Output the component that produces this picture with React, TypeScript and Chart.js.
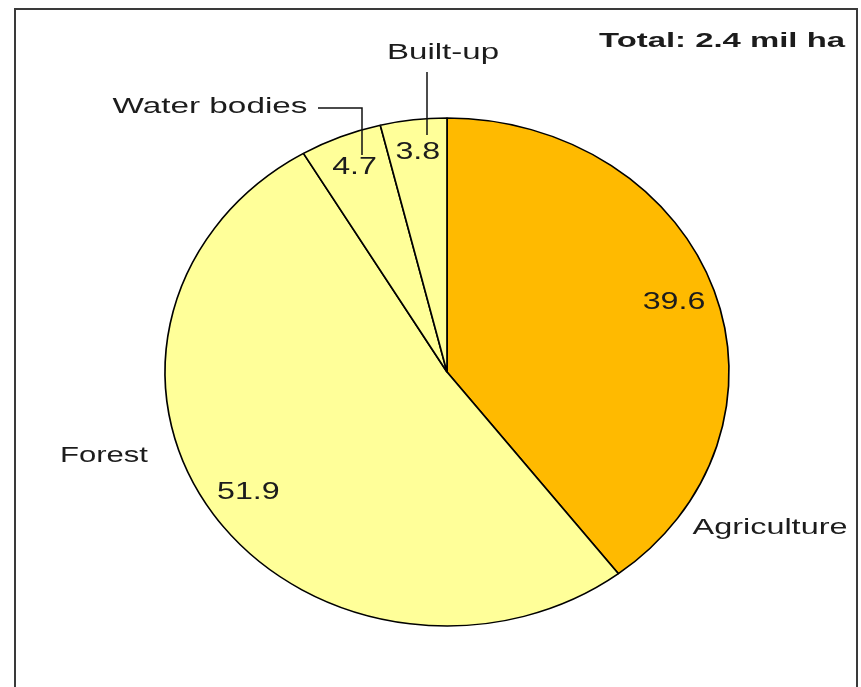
import React, { useEffect, useRef } from "react";
import { Chart, registerables } from "chart.js";

Chart.register(...registerables);

// ---- data ----
const categories = ["Agriculture", "Forest", "Water bodies", "Built-up"];
const shares = [39.6, 51.9, 4.7, 3.8];
const valueLabels = ["39.6", "51.9", "4.7", "3.8"];
const totalLabel = "Total: 2.4 mil ha";

// ---- styles / layout ----
const sliceColors = ["#FFBA00", "#FFFF99", "#FFFF99", "#FFFF99"];
const W = 861;
const H = 687;
const CX = 447;
const CY = 372;
const RY = 254;
const ELLIPSE_SX = 282 / 254;
const TEXT_COLOR = "#1c1c1c";
const FONT_FAMILY = "'Liberation Sans', Arial, sans-serif";

// category label placement (page px): x, baseline y, target text width
const labelLayout = [
  { x: 770, y: 534, w: 155 },
  { x: 104, y: 462, w: 88 },
  { x: 210, y: 113, w: 195 },
  { x: 443, y: 59, w: 112 },
];
const leaderLines: (number[][] | null)[] = [
  null,
  null,
  [[318, 108], [362, 108], [362, 155]],
  [[427, 72], [427, 135]],
];
const valueRadius = [0.85, 0.85, 0.87, 0.87];
const valueStretch = 1.4;
const totalLayout = { x: 845, y: 47, w: 246 };

function drawStretched(
  ctx: CanvasRenderingContext2D,
  text: string,
  x: number,
  y: number,
  font: string,
  sx: number | null,
  targetW: number | null,
  align: CanvasTextAlign,
  baseline: CanvasTextBaseline
) {
  ctx.save();
  ctx.font = font;
  ctx.fillStyle = TEXT_COLOR;
  ctx.textAlign = align;
  ctx.textBaseline = baseline;
  const natural = ctx.measureText(text).width;
  const k = targetW ? targetW / natural : sx || 1;
  ctx.translate(x, y);
  ctx.scale(k, 1);
  ctx.fillText(text, 0, 0);
  ctx.restore();
}

const ellipsePlugin = {
  id: "ellipsePie",
  beforeDatasetsDraw(chart: any) {
    const ctx = chart.ctx as CanvasRenderingContext2D;
    const a = chart.chartArea;
    const cx = (a.left + a.right) / 2;
    const cy = (a.top + a.bottom) / 2;
    ctx.save();
    ctx.translate(cx, cy);
    ctx.scale(ELLIPSE_SX, 1);
    ctx.translate(-cx, -cy);
  },
  afterDatasetsDraw(chart: any) {
    const ctx = chart.ctx as CanvasRenderingContext2D;
    ctx.restore();

    const meta = chart.getDatasetMeta(0);
    // value labels inside slices
    meta.data.forEach((arc: any, i: number) => {
      const p = arc.getProps(["x", "y", "startAngle", "endAngle", "outerRadius"], true);
      const mid = (p.startAngle + p.endAngle) / 2;
      const r = p.outerRadius * valueRadius[i];
      const x = p.x + Math.cos(mid) * r * ELLIPSE_SX;
      const y = p.y + Math.sin(mid) * r;
      drawStretched(ctx, valueLabels[i], x, y, `23px ${FONT_FAMILY}`, valueStretch, null, "center", "middle");
    });

    // leader lines
    ctx.save();
    ctx.strokeStyle = "#111";
    ctx.lineWidth = 1.5;
    leaderLines.forEach((pts) => {
      if (!pts) return;
      ctx.beginPath();
      pts.forEach((pt, j) => (j === 0 ? ctx.moveTo(pt[0], pt[1]) : ctx.lineTo(pt[0], pt[1])));
      ctx.stroke();
    });
    ctx.restore();

    // category labels
    categories.forEach((c, i) => {
      const L = labelLayout[i];
      drawStretched(ctx, c, L.x, L.y, `22px ${FONT_FAMILY}`, null, L.w, "center", "alphabetic");
    });

    // total
    drawStretched(ctx, totalLabel, totalLayout.x, totalLayout.y, `bold 21px ${FONT_FAMILY}`, null, totalLayout.w, "right", "alphabetic");
  },
};

export default function App() {
  const canvasRef = useRef<HTMLCanvasElement | null>(null);

  useEffect(() => {
    if (!canvasRef.current) return;
    const half = RY + 0.75;
    const chart = new Chart(canvasRef.current, {
      type: "pie",
      data: {
        labels: categories,
        datasets: [
          {
            data: shares,
            backgroundColor: sliceColors,
            borderColor: "#000000",
            borderWidth: 1.5,
          },
        ],
      },
      options: {
        responsive: true,
        maintainAspectRatio: false,
        animation: false,
        events: [],
        layout: {
          padding: {
            left: CX - half,
            right: W - (CX + half),
            top: CY - half,
            bottom: H - (CY + half),
          },
        },
        plugins: {
          legend: { display: false },
          title: { display: false },
          tooltip: { enabled: false },
        },
      },
      plugins: [ellipsePlugin],
    });
    return () => chart.destroy();
  }, []);

  return (
    <div
      style={{
        position: "fixed",
        left: 0,
        top: 0,
        width: W,
        height: H,
        background: "#ffffff",
        overflow: "hidden",
      }}
    >
      <div
        style={{
          position: "absolute",
          left: 14,
          top: 8,
          width: 844,
          height: 720,
          border: "2px solid #3a3a3a",
          boxSizing: "border-box",
        }}
      />
      <div style={{ position: "absolute", left: 0, top: 0, width: W, height: H }}>
        <canvas ref={canvasRef} />
      </div>
    </div>
  );
}
